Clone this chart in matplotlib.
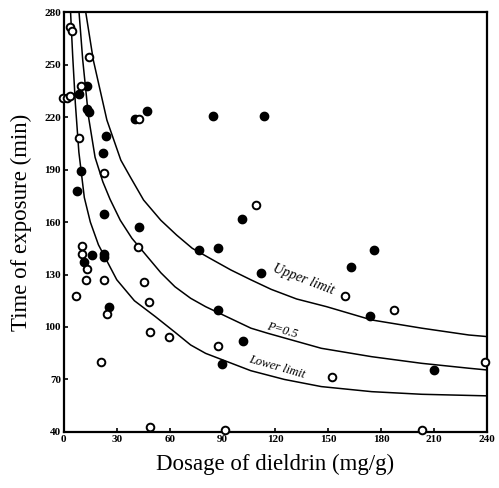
import matplotlib
matplotlib.use("Agg")
import matplotlib.pyplot as plt

# observed points (dosage mg/g, time min)
FILLED_X = [13.3, 8.6, 13.0, 14.2, 40.3, 47.4, 23.8, 22.0, 9.9, 7.6,
            23.0, 42.4, 76.6, 16.1, 22.8, 22.8, 11.4, 25.8, 84.4, 113.7,
            101.0, 87.7, 111.8, 163.0, 175.9, 173.6, 209.8, 87.4, 101.7, 89.6]
FILLED_Y = [237.7, 233.1, 224.5, 222.8, 219.0, 223.4, 209.1, 199.5, 189.1, 177.9,
            164.5, 157.0, 144.2, 141.1, 141.7, 140.2, 137.0, 111.6, 220.4, 220.4,
            161.5, 145.2, 131.0, 134.5, 144.0, 106.3, 75.4, 109.7, 92.2, 78.9]

OPEN_X = [3.4, 4.4, 14.4, 9.9, -0.4, 1.5, 3.4, 42.6, 8.6, 22.8,
          10.1, 42.0, 10.1, 13.3, 12.4, 23.0, 45.2, 6.7, 48.1, 24.7,
          49.1, 59.9, 20.9, 49.1, 109.1, 87.4, 91.5, 159.7, 187.3, 238.6,
          152.3, 203.1]
OPEN_Y = [271.6, 269.1, 254.6, 237.9, 230.9, 231.2, 232.0, 219.2, 208.2, 187.8,
          146.5, 146.0, 141.7, 133.0, 126.9, 126.9, 125.5, 117.5, 114.5, 107.4,
          97.3, 94.5, 80.2, 43.0, 169.7, 89.3, 41.1, 117.5, 109.7, 80.2,
          71.6, 41.1]

# fitted curves
UPPER_X = [12.4, 16.7, 24.4, 32.3, 37.6, 45.2, 55, 64, 72.8, 83.3, 94.7, 106,
           117.6, 132, 149, 174.6, 203, 229.7, 240]
UPPER_Y = [280, 252.6, 218.3, 195.4, 185.9, 172.6, 161, 152.5, 145, 139, 132.6, 127,
           121.5, 116, 111.6, 104, 99.3, 95.4, 94.5]

MID_X = [8.6, 10.7, 14.0, 17.7, 22.1, 26.2, 32, 38.6, 55, 63, 71.9, 80.4,
         106.1, 115.6, 146, 174.6, 203, 229.7, 240]
MID_Y = [280, 252.6, 220, 197, 183, 173, 161, 150.7, 131, 123, 116.4, 111.6,
         99.3, 96.4, 87.8, 83, 79.2, 76.4, 75.4]

LOW_X = [3.8, 5.0, 6.5, 8.5, 11.6, 15, 19.6, 30, 40, 51.9, 63, 71.9, 80.4,
         106, 125, 146, 174.6, 203, 240]
LOW_Y = [280, 255, 228, 200, 174, 160, 147, 127, 115, 105.9, 97, 89.7, 84.9,
         75, 70, 65.9, 63, 61.5, 60.6]

X_TICKS = [0, 30, 60, 90, 120, 150, 180, 210, 240]
Y_TICKS = [40, 70, 100, 130, 160, 190, 220, 250, 280]

SERIF = ["Liberation Serif", "DejaVu Serif"]

plt.rcParams["font.family"] = SERIF

fig = plt.figure(figsize=(4.99, 4.88), dpi=100)
ax = fig.add_axes([0.128, 0.115, 0.848, 0.86])

for xs, ys in [(UPPER_X, UPPER_Y), (MID_X, MID_Y), (LOW_X, LOW_Y)]:
    ax.plot(xs, ys, color="black", lw=1.1)

ax.plot(FILLED_X, FILLED_Y, "o", ms=6, color="black", clip_on=False, zorder=3)
ax.plot(OPEN_X, OPEN_Y, "o", ms=5.5, mfc="white", mec="black", mew=1.4,
        clip_on=False, zorder=3)

ax.text(136, 127, "Upper limit", rotation=-21, fontsize=10, style="italic",
        ha="center", va="center")
ax.text(124, 98, "P=0.5", rotation=-16, fontsize=9, style="italic",
        ha="center", va="center")
ax.text(121, 77, "Lower limit", rotation=-16, fontsize=9, style="italic",
        ha="center", va="center")

ax.set_xlim(0, 240)
ax.set_ylim(40, 280)
ax.set_xticks(X_TICKS)
ax.set_yticks(Y_TICKS)
ax.tick_params(direction="in", length=3, width=1.2, labelsize=8, pad=2)
for lbl in ax.get_xticklabels() + ax.get_yticklabels():
    lbl.set_fontweight("bold")
for sp in ax.spines.values():
    sp.set_linewidth(1.6)

ax.set_xlabel("Dosage of dieldrin (mg/g)", fontsize=16.5, labelpad=7)
ax.set_ylabel("Time of exposure (min)", fontsize=16.5, labelpad=9)

fig.savefig("out.png", dpi=100)
